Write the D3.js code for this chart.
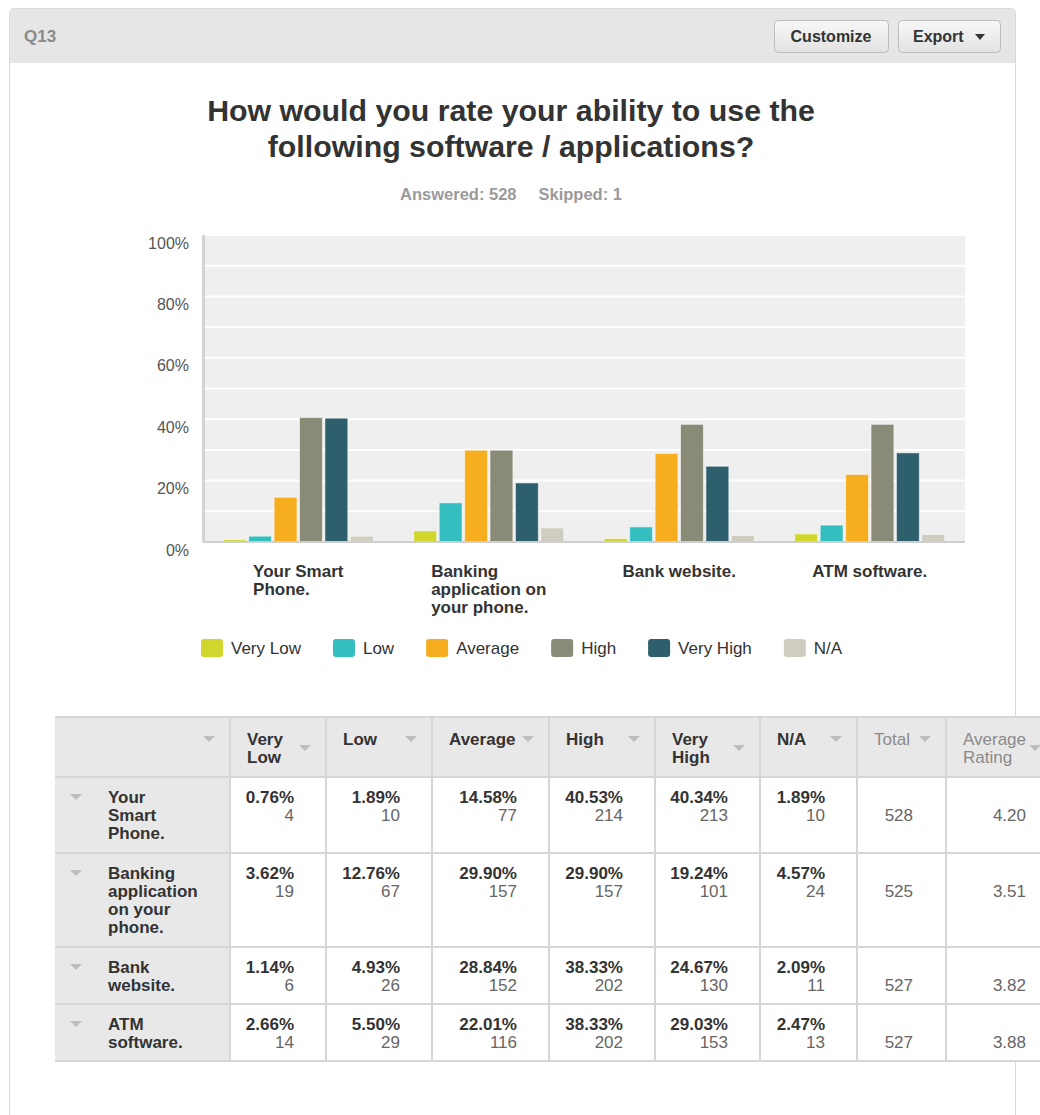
<!DOCTYPE html>
<html><head><meta charset="utf-8">
<script src="https://cdnjs.cloudflare.com/ajax/libs/d3/7.8.5/d3.min.js"></script>
<style>
html,body{margin:0;padding:0;background:#fff;}
svg{display:block;font-family:"Liberation Sans",Arial,sans-serif;}
</style></head>
<body>
<svg id="c" width="1040" height="1115"></svg>
<script>
// ---- data ----
const categories = ["Your Smart Phone.", "Banking application on your phone.", "Bank website.", "ATM software."];
const seriesNames = ["Very Low", "Low", "Average", "High", "Very High", "N/A"];
const pctVeryLow  = [0.76, 3.62, 1.14, 2.66];
const pctLow      = [1.89, 12.76, 4.93, 5.50];
const pctAverage  = [14.58, 29.90, 28.84, 22.01];
const pctHigh     = [40.53, 29.90, 38.33, 38.33];
const pctVeryHigh = [40.34, 19.24, 24.67, 29.03];
const pctNA       = [1.89, 4.57, 2.09, 2.47];
const cntVeryLow  = [4, 19, 6, 14];
const cntLow      = [10, 67, 26, 29];
const cntAverage  = [77, 157, 152, 116];
const cntHigh     = [214, 157, 202, 202];
const cntVeryHigh = [213, 101, 130, 153];
const cntNA       = [10, 24, 11, 13];
const totals      = [528, 525, 527, 527];
const avgRatings  = ["4.20", "3.51", "3.82", "3.88"];
const yTicks      = [0, 20, 40, 60, 80, 100];
const colors      = ["#d0d62c", "#34bec0", "#f6ae1e", "#898b77", "#2e5f6c", "#cfcdbf"];
const titleLines  = ["How would you rate your ability to use the", "following software / applications?"];

const pcts = [pctVeryLow, pctLow, pctAverage, pctHigh, pctVeryHigh, pctNA];
const cnts = [cntVeryLow, cntLow, cntAverage, cntHigh, cntVeryHigh, cntNA];

const svg = d3.select("#c");
const FONT = '"Liberation Sans",Arial,sans-serif';

// measuring helper
const meas = svg.append("text").attr("x", -1000).attr("y", -1000);
function textW(t, size, weight) {
  meas.attr("font-size", size).attr("font-weight", weight).text(t);
  return meas.node().getComputedTextLength();
}
function wrap(t, maxW, size, weight) {
  const words = t.split(" "); const lines = []; let cur = "";
  words.forEach(w => {
    const test = cur ? cur + " " + w : w;
    if (cur && textW(test, size, weight) > maxW) { lines.push(cur); cur = w; } else cur = test;
  });
  if (cur) lines.push(cur);
  return lines;
}

// ---- panel ----
svg.append("rect").attr("x", 9.5).attr("y", 8.5).attr("width", 1006).attr("height", 1130)
  .attr("rx", 4).attr("fill", "#fff").attr("stroke", "#d9d9d9");
svg.append("path").attr("d", "M10,63 L10,13 Q10,9 14,9 L1011,9 Q1015,9 1015,13 L1015,63 Z").attr("fill", "#e6e6e6");
svg.append("text").attr("x", 24).attr("y", 42).attr("font-size", 17).attr("font-weight", "bold")
  .attr("fill", "#8a8a8a").text("Q13");

const defs = svg.append("defs");
const g = defs.append("linearGradient").attr("id", "btn").attr("x1", 0).attr("y1", 0).attr("x2", 0).attr("y2", 1);
g.append("stop").attr("offset", "0%").attr("stop-color", "#f8f8f8");
g.append("stop").attr("offset", "100%").attr("stop-color", "#e2e2e2");
function button(x, w, label, caret) {
  svg.append("rect").attr("x", x + 0.5).attr("y", 20.5).attr("width", w).attr("height", 32).attr("rx", 4)
    .attr("fill", "url(#btn)").attr("stroke", "#bdbdbd");
  const tx = caret ? x + 15 : x + w / 2;
  svg.append("text").attr("x", tx).attr("y", 42).attr("font-size", 16).attr("font-weight", "bold")
    .attr("fill", "#333").attr("text-anchor", caret ? "start" : "middle").text(label);
  if (caret) {
    const cx = x + w - 20;
    svg.append("path").attr("d", `M${cx - 5},34 L${cx + 5},34 L${cx},40 Z`).attr("fill", "#333");
  }
}
button(774, 114, "Customize", false);
button(898, 102, "Export", true);

// ---- title ----
titleLines.forEach((t, i) => {
  svg.append("text").attr("x", 511).attr("y", 121 + i * 36).attr("text-anchor", "middle")
    .attr("font-size", 30.3).attr("font-weight", "bold").attr("fill", "#333").text(t);
});
const sub = svg.append("text").attr("x", 511).attr("y", 200).attr("text-anchor", "middle")
  .attr("font-size", 16.5).attr("font-weight", "bold").attr("fill", "#9a9a9a");
sub.append("tspan").text("Answered: 528");
sub.append("tspan").attr("dx", 22).text("Skipped: 1");

// ---- chart ----
const x0 = d3.scaleBand().domain(categories).range([203, 965]).paddingInner(0.2126).paddingOuter(0.1063);
const x1 = d3.scaleBand().domain(seriesNames).range([0, x0.bandwidth()]).paddingInner(0.1).paddingOuter(0);
const y = d3.scaleLinear().domain([0, 100]).range([542, 235]);

svg.append("rect").attr("x", 203).attr("y", 235).attr("width", 762).attr("height", 307).attr("fill", "#efefef");
svg.append("g").selectAll("line").data(d3.range(10, 101, 10)).join("line")
  .attr("x1", 203).attr("x2", 965).attr("y1", d => y(d)).attr("y2", d => y(d))
  .attr("stroke", "#fff").attr("stroke-width", 2);

// y axis labels via d3 axis
const yAxis = svg.append("g").attr("transform", "translate(203,8)")
  .call(d3.axisLeft(y).tickValues(yTicks).tickFormat(d => d + "%").tickSize(0).tickPadding(14));
yAxis.select(".domain").remove();
yAxis.selectAll("text").attr("font-size", 16).attr("fill", "#555").attr("font-family", FONT);

// bars
const groups = svg.append("g").selectAll("g").data(categories).join("g")
  .attr("transform", d => `translate(${x0(d)},0)`);
groups.selectAll("rect").data((d, ci) => seriesNames.map((s, si) => ({ s, si, v: pcts[si][ci] }))).join("rect")
  .attr("x", d => x1(d.s)).attr("width", x1.bandwidth())
  .attr("y", d => y(d.v)).attr("height", d => y(0) - y(d.v))
  .attr("fill", d => colors[d.si]).attr("stroke", "rgba(255,255,255,0.55)").attr("stroke-width", 1);

// axis lines
svg.append("line").attr("x1", 203).attr("x2", 965).attr("y1", 542).attr("y2", 542).attr("stroke", "#cfcfcf").attr("stroke-width", 2);
svg.append("line").attr("x1", 203.5).attr("x2", 203.5).attr("y1", 235).attr("y2", 543).attr("stroke", "#d3d3d3").attr("stroke-width", 3);

// category labels
categories.forEach(c => {
  const lines = wrap(c, 130, 17, "bold");
  const mw = d3.max(lines, l => textW(l, 17, "bold"));
  const cx = x0(c) + x0.bandwidth() / 2;
  lines.forEach((l, i) => {
    svg.append("text").attr("x", cx - mw / 2).attr("y", 577 + i * 18).attr("font-size", 17)
      .attr("font-weight", "bold").attr("fill", "#333").text(l);
  });
});

// legend
let lx = 201;
seriesNames.forEach((s, i) => {
  svg.append("rect").attr("x", lx).attr("y", 639).attr("width", 22).attr("height", 18).attr("rx", 3).attr("fill", colors[i]);
  svg.append("text").attr("x", lx + 30).attr("y", 654).attr("font-size", 17).attr("fill", "#333").text(s);
  lx += 30 + textW(s, 17, "normal") + 32;
});

// ---- table ----
const colX = [55, 230, 326, 432, 549, 655, 760, 857, 946, 1056];
const headers = ["", ...seriesNames, "Total", "Average Rating"];
const tTop = 717;
const lineH = 18;
function arrow(cx, cy) {
  svg.append("path").attr("d", `M${cx - 6},${cy - 3} L${cx + 6},${cy - 3} L${cx},${cy + 3} Z`).attr("fill", "#bdbdbd");
}
// header
const headerLines = headers.map((h, i) => {
  const w = colX[i + 1] - colX[i];
  const bold = i <= 6;
  return h ? wrap(h, w - 50, 17, bold ? "bold" : "normal") : [];
});
const headerH = 60;
svg.append("rect").attr("x", 55).attr("y", tTop).attr("width", colX[9] - 55).attr("height", headerH).attr("fill", "#e8e8e8");
headers.forEach((h, i) => {
  const lines = headerLines[i];
  const bold = i <= 6;
  lines.forEach((l, k) => {
    svg.append("text").attr("x", colX[i] + 17).attr("y", tTop + 22 + 6 + k * lineH).attr("font-size", 17)
      .attr("font-weight", bold ? "bold" : "normal").attr("fill", bold ? "#333" : "#8a8a8a").text(l);
  });
  const n = Math.max(1, lines.length);
  arrow(colX[i + 1] - 21, tTop + 22 + (n - 1) * lineH / 2);
});
// rows
let ry = tTop + headerH;
const rowBounds = [tTop, ry];
categories.forEach((c, ri) => {
  const lines = wrap(c, 85, 17, "bold");
  const n = Math.max(2, lines.length);
  const h = Math.round(20 + 18.5 * n);
  svg.append("rect").attr("x", colX[1]).attr("y", ry).attr("width", colX[9] - colX[1]).attr("height", h).attr("fill", "#fff");
  svg.append("rect").attr("x", 55).attr("y", ry).attr("width", colX[1] - 55).attr("height", h).attr("fill", "#e8e8e8");
  arrow(76, ry + 20);
  lines.forEach((l, k) => {
    svg.append("text").attr("x", 108).attr("y", ry + 26 + k * lineH).attr("font-size", 17)
      .attr("font-weight", "bold").attr("fill", "#333").text(l);
  });
  seriesNames.forEach((s, si) => {
    const rx = colX[si + 2] - 32;
    svg.append("text").attr("x", rx).attr("y", ry + 26).attr("text-anchor", "end").attr("font-size", 17)
      .attr("font-weight", "bold").attr("fill", "#333").text(pcts[si][ri].toFixed(2) + "%");
    svg.append("text").attr("x", rx).attr("y", ry + 26 + lineH).attr("text-anchor", "end").attr("font-size", 17)
      .attr("fill", "#666").text(cnts[si][ri]);
  });
  svg.append("text").attr("x", colX[8] - 33).attr("y", ry + 26 + lineH).attr("text-anchor", "end").attr("font-size", 17)
    .attr("fill", "#666").text(totals[ri]);
  svg.append("text").attr("x", colX[9] - 30).attr("y", ry + 26 + lineH).attr("text-anchor", "end").attr("font-size", 17)
    .attr("fill", "#666").text(avgRatings[ri]);
  ry += h;
  rowBounds.push(ry);
});
// grid lines
const tg = svg.append("g").attr("stroke", "#d6d6d6").attr("stroke-width", 2);
rowBounds.forEach(yy => tg.append("line").attr("x1", 55).attr("x2", colX[9]).attr("y1", yy).attr("y2", yy));
colX.slice(1).forEach(xx => tg.append("line").attr("x1", xx).attr("x2", xx).attr("y1", tTop).attr("y2", ry));
meas.remove();
</script>
</body></html>
